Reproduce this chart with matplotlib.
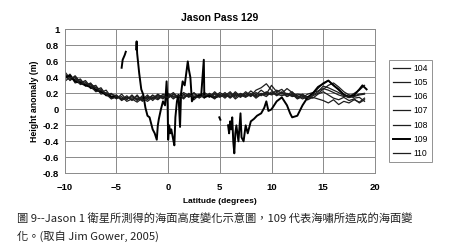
import numpy as np
import matplotlib
matplotlib.use('Agg')
from matplotlib import pyplot as plt

# common latitude grid for the "normal" passes
lat = np.arange(-10, 19.01, 0.5)

s104 = [0.45, 0.36, 0.41, 0.33, 0.36, 0.28, 0.30, 0.21, 0.24, 0.15,
        0.18, 0.12, 0.17, 0.11, 0.18, 0.10, 0.16, 0.13, 0.19, 0.14,
        0.20, 0.15, 0.18, 0.13, 0.20, 0.15, 0.19, 0.14, 0.20, 0.16,
        0.21, 0.17, 0.22, 0.15, 0.20, 0.17, 0.23, 0.18, 0.24, 0.19,
        0.30, 0.22, 0.25, 0.18, 0.22, 0.15, 0.18, 0.12, 0.17, 0.20,
        0.25, 0.30, 0.33, 0.28, 0.22, 0.18, 0.14, 0.15, 0.10]
s105 = [0.38, 0.44, 0.35, 0.38, 0.30, 0.33, 0.24, 0.27, 0.18, 0.20,
        0.13, 0.19, 0.12, 0.18, 0.11, 0.17, 0.12, 0.18, 0.13, 0.19,
        0.16, 0.21, 0.14, 0.19, 0.15, 0.21, 0.14, 0.19, 0.15, 0.22,
        0.16, 0.21, 0.15, 0.22, 0.16, 0.22, 0.17, 0.24, 0.27, 0.32,
        0.24, 0.18, 0.22, 0.16, 0.20, 0.14, 0.19, 0.15, 0.20, 0.26,
        0.33, 0.36, 0.30, 0.24, 0.19, 0.16, 0.20, 0.24, 0.30]
s106 = [0.41, 0.37, 0.42, 0.34, 0.31, 0.31, 0.25, 0.22, 0.20, 0.16,
        0.14, 0.16, 0.10, 0.13, 0.09, 0.14, 0.10, 0.15, 0.12, 0.17,
        0.14, 0.19, 0.16, 0.21, 0.17, 0.20, 0.16, 0.21, 0.17, 0.20,
        0.15, 0.19, 0.14, 0.19, 0.15, 0.20, 0.16, 0.21, 0.17, 0.22,
        0.19, 0.24, 0.20, 0.26, 0.21, 0.17, 0.13, 0.16, 0.14, 0.19,
        0.22, 0.18, 0.14, 0.12, 0.15, 0.11, 0.13, 0.08, 0.12]
s107 = [0.47, 0.39, 0.37, 0.37, 0.29, 0.32, 0.27, 0.25, 0.17, 0.19,
        0.17, 0.11, 0.15, 0.14, 0.16, 0.12, 0.18, 0.11, 0.17, 0.13,
        0.19, 0.13, 0.18, 0.15, 0.19, 0.12, 0.18, 0.15, 0.17, 0.13,
        0.19, 0.14, 0.20, 0.13, 0.18, 0.15, 0.20, 0.14, 0.19, 0.16,
        0.22, 0.17, 0.21, 0.16, 0.19, 0.13, 0.16, 0.12, 0.15, 0.13,
        0.11, 0.08, 0.12, 0.06, 0.10, 0.08, 0.12, 0.09, 0.14]
s108 = [0.39, 0.43, 0.33, 0.35, 0.34, 0.26, 0.28, 0.19, 0.21, 0.14,
        0.15, 0.14, 0.13, 0.16, 0.12, 0.15, 0.13, 0.17, 0.15, 0.16,
        0.17, 0.16, 0.14, 0.18, 0.16, 0.18, 0.17, 0.18, 0.16, 0.19,
        0.18, 0.16, 0.18, 0.17, 0.19, 0.16, 0.18, 0.17, 0.20, 0.18,
        0.20, 0.19, 0.17, 0.19, 0.16, 0.17, 0.15, 0.19, 0.21, 0.23,
        0.26, 0.24, 0.21, 0.18, 0.16, 0.18, 0.17, 0.19, 0.20]
s110 = [0.35, 0.40, 0.39, 0.31, 0.33, 0.29, 0.22, 0.24, 0.19, 0.13,
        0.16, 0.13, 0.15, 0.12, 0.14, 0.11, 0.15, 0.14, 0.18, 0.16,
        0.15, 0.18, 0.17, 0.15, 0.18, 0.16, 0.15, 0.17, 0.19, 0.15,
        0.17, 0.18, 0.16, 0.20, 0.17, 0.18, 0.19, 0.16, 0.18, 0.21,
        0.18, 0.21, 0.19, 0.20, 0.17, 0.19, 0.18, 0.14, 0.18, 0.22,
        0.29, 0.27, 0.24, 0.21, 0.17, 0.15, 0.16, 0.18, 0.19]

# pass 109 (tsunami), own latitudes, nan = data gap
p109 = [(-10, 0.40), (-9.5, 0.42), (-9, 0.35), (-8.5, 0.33), (-8, 0.30),
        (-7.5, 0.28), (-7, 0.24), (-6.5, 0.22), (-6, 0.18), (-5.5, 0.16),
        (-5, 0.15), (-4.8, np.nan),
        (-4.5, 0.52), (-4.4, 0.62), (-4.2, 0.68), (-4.1, 0.72), (-4.0, np.nan),
        (-3.1, 0.75), (-3.05, 0.85), (-3.0, 0.70), (-2.8, 0.45), (-2.6, 0.25),
        (-2.4, 0.18), (-2.2, 0.02), (-2.0, -0.08), (-1.8, -0.10), (-1.5, -0.25),
        (-1.3, -0.30), (-1.1, -0.38), (-1.0, -0.20), (-0.9, -0.12), (-0.7, 0.0),
        (-0.5, 0.10), (-0.3, 0.05), (-0.15, 0.35), (-0.05, 0.05), (0.0, -0.38),
        (0.1, -0.20), (0.2, -0.30), (0.3, -0.25), (0.45, -0.35), (0.6, -0.45),
        (0.7, -0.10), (0.85, 0.10), (1.0, 0.18), (1.15, -0.22), (1.25, 0.20),
        (1.4, 0.35), (1.6, 0.30), (1.75, 0.45), (1.9, 0.60), (2.0, 0.50),
        (2.15, 0.40), (2.3, 0.10), (2.5, 0.15), (2.8, 0.16), (3.2, 0.18),
        (3.45, 0.62), (3.5, 0.15), (3.6, 0.16), (4.0, 0.17), (4.5, 0.15),
        (4.8, 0.16), (4.9, np.nan),
        (4.95, -0.10), (5.05, -0.13), (5.2, np.nan),
        (5.8, -0.20), (5.9, -0.30), (6.0, -0.15), (6.1, -0.25), (6.2, -0.10),
        (6.3, -0.40), (6.4, -0.55), (6.5, -0.30), (6.6, -0.20), (6.8, -0.40),
        (7.0, -0.05), (7.1, -0.35), (7.3, -0.40), (7.5, -0.20), (7.7, -0.30),
        (8.0, -0.15), (8.3, -0.12), (8.6, -0.08), (9.0, -0.05), (9.3, 0.02),
        (9.5, 0.10), (9.7, -0.02), (10.0, 0.0), (10.5, 0.10), (11.0, 0.15),
        (11.5, 0.05), (11.8, -0.05), (12.0, -0.10), (12.5, -0.08), (13.0, 0.05),
        (13.5, 0.15), (14.0, 0.20), (14.5, 0.28), (15.0, 0.32), (15.5, 0.36),
        (16.0, 0.30), (16.5, 0.25), (17.0, 0.18), (17.5, 0.15), (18.0, 0.18),
        (18.5, 0.25), (18.8, 0.30), (19.2, 0.25)]
lat109 = [p[0] for p in p109]
v109 = [p[1] for p in p109]

plt.rcParams['font.family'] = ['Liberation Sans', 'DejaVu Sans']

fig = plt.figure(figsize=(4.5, 2.49), dpi=100)
ax = fig.add_axes([0.144, 0.304, 0.689, 0.578])

thin = dict(color='#1e1e1e', linewidth=0.9)
ax.plot(lat, s104, label='104', **thin)
ax.plot(lat, s105, label='105', **thin)
ax.plot(lat, s106, label='106', **thin)
ax.plot(lat, s107, label='107', **thin)
ax.plot(lat, s108, label='108', **thin)
ax.plot(lat109, v109, label='109', color='black', linewidth=1.4)
ax.plot(lat, s110, label='110', **thin)

ax.set_xlim(-10, 20)
ax.set_ylim(-0.8, 1)
ax.set_xticks([-10, -5, 0, 5, 10, 15, 20])
ax.set_yticks([-0.8, -0.6, -0.4, -0.2, 0, 0.2, 0.4, 0.6, 0.8, 1])
ax.set_yticklabels(['-0.8', '-0.6', '-0.4', '-0.2', '0', '0.2', '0.4', '0.6', '0.8', '1'])
ax.grid(True, color='#8a8a8a', linewidth=0.7)
ax.set_axisbelow(True)
for s in ax.spines.values():
    s.set_color('#8a8a8a')
    s.set_linewidth(0.7)
ax.tick_params(length=0, labelsize=6.8)
ax.tick_params(axis='x', pad=7)
ax.tick_params(axis='y', pad=4)
for t in ax.get_xticklabels() + ax.get_yticklabels():
    t.set_fontweight('bold')
ax.set_title('Jason Pass 129', fontsize=7.5, fontweight='bold', pad=6)
ax.set_xlabel('Latitude (degrees)', fontsize=6, fontweight='bold', labelpad=4)
ax.set_ylabel('Height anomaly (m)', fontsize=6.3, fontweight='bold', labelpad=3)

leg = ax.legend(loc='upper left', bbox_to_anchor=(1.045, 0.79), fontsize=6.2,
                frameon=True, fancybox=False, handlelength=2.0, labelspacing=0.6,
                borderpad=0.5, handletextpad=0.3, borderaxespad=0)
leg.get_frame().set_edgecolor('#777777')
leg.get_frame().set_linewidth(0.7)

cap_font = ['Noto Sans CJK TC', 'DejaVu Sans']
fig.text(0.038, 0.118, '圖 9--Jason 1 衛星所測得的海面高度變化示意圖，109 代表海嘯所造成的海面變',
         fontsize=8.1, family=cap_font, va='center', color='#222222')
fig.text(0.038, 0.050, '化。(取自 Jim Gower, 2005)',
         fontsize=8.1, family=cap_font, va='center', color='#222222')

fig.savefig('out.png', dpi=100)
